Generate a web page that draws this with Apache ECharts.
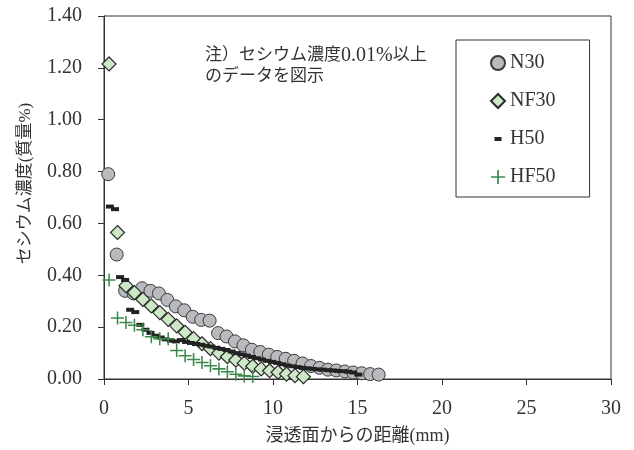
<!DOCTYPE html>
<html>
<head>
  <meta charset="UTF-8">
  <title>セシウム濃度分布</title>
  <script src="https://cdn.jsdelivr.net/npm/echarts@6/dist/echarts.min.js"></script>
  <style>
    html, body { margin: 0; padding: 0; background: #fff; }
    #chart { width: 634px; height: 450px; }
  </style>
</head>
<body>
  <div id="chart"></div>
  <script type="text/javascript">
    // distance from surface (mm) / Cs concentration (mass %)
    var n30X = [0.25, 0.75, 1.25, 1.75, 2.25, 2.75, 3.25, 3.75, 4.25, 4.75, 5.25, 5.75, 6.25, 6.75, 7.25, 7.75,
      8.25, 8.75, 9.25, 9.75, 10.25, 10.75, 11.25, 11.75, 12.25, 12.75, 13.25, 13.75, 14.25, 14.75, 15.25, 15.75, 16.25];
    var n30Y = [0.79, 0.48, 0.34, 0.33, 0.35, 0.34, 0.33, 0.305, 0.28, 0.265, 0.24, 0.228, 0.225, 0.177, 0.164, 0.145,
      0.13, 0.113, 0.104, 0.094, 0.085, 0.078, 0.07, 0.06, 0.05, 0.043, 0.036, 0.033, 0.029, 0.025, 0.022, 0.019, 0.017];

    var nf30X = [0.3, 0.8, 1.3, 1.8, 2.3, 2.8, 3.3, 3.8, 4.3, 4.8, 5.3, 5.8, 6.3, 6.8, 7.3, 7.8,
      8.3, 8.8, 9.3, 9.8, 10.3, 10.8, 11.3, 11.8];
    var nf30Y = [1.215, 0.565, 0.36, 0.333, 0.307, 0.282, 0.256, 0.23, 0.205, 0.18, 0.156, 0.136, 0.117, 0.1, 0.086, 0.073,
      0.061, 0.049, 0.039, 0.032, 0.026, 0.019, 0.013, 0.009];

    var h50X = [0.35, 0.65, 0.95, 1.25, 1.55, 1.85, 2.15, 2.45, 2.75, 3.05, 3.35, 3.65, 3.95, 4.25, 4.55, 4.85,
      5.15, 5.45, 5.75, 6.05, 6.35, 6.65, 6.95, 7.25, 7.55, 7.85, 8.15, 8.45, 8.75, 9.05, 9.35, 9.65,
      9.95, 10.25, 10.55, 10.85, 11.15, 11.45, 11.75, 12.05, 12.35, 12.65, 12.95, 13.25, 13.55, 13.85, 14.15, 14.45,
      14.75, 15.05];
    var h50Y = [0.665, 0.655, 0.393, 0.382, 0.267, 0.258, 0.209, 0.19, 0.178, 0.167, 0.16, 0.153, 0.148, 0.145, 0.15, 0.143,
      0.139, 0.135, 0.132, 0.128, 0.125, 0.12, 0.116, 0.112, 0.106, 0.1, 0.095, 0.09, 0.085, 0.08, 0.075, 0.07,
      0.066, 0.062, 0.057, 0.052, 0.049, 0.046, 0.043, 0.041, 0.039, 0.037, 0.036, 0.034, 0.033, 0.031, 0.03, 0.028,
      0.025, 0.017];

    var hf50X = [0.3, 0.8, 1.3, 1.8, 2.3, 2.8, 3.3, 3.8, 4.3, 4.8, 5.3, 5.8, 6.3, 6.8, 7.3, 7.8, 8.3, 8.8];
    var hf50Y = [0.382, 0.235, 0.218, 0.207, 0.19, 0.163, 0.155, 0.155, 0.11, 0.09, 0.075, 0.064, 0.051, 0.039, 0.028, 0.018,
      0.012, 0.01];

    var xTicks = [0, 5, 10, 15, 20, 25, 30];

    function pairs(xs, ys) {
      var out = [];
      for (var i = 0; i < xs.length; i++) out.push([xs[i], ys[i]]);
      return out;
    }

    var FONT = "'Liberation Serif', 'Noto Sans CJK JP', serif";
    var INK = '#333';
    var CROSS = 'path://M0,44H100V56H0Z M44,0H56V100H44Z';
    var DASH_ICON = 'path://M0,0L0,0M14,14L14,14M3.5,5H10.5V9H3.5Z';

    var chart = echarts.init(document.getElementById('chart'));

    var option = {
      backgroundColor: '#fff',
      animation: false,
      grid: {
        left: 104, right: 23, top: 16, bottom: 71,
        show: true, borderColor: INK, borderWidth: 1,
        outerBoundsMode: 'none'
      },
      xAxis: {
        type: 'value',
        min: xTicks[0], max: xTicks[xTicks.length - 1], interval: 5,
        name: '浸透面からの距離(mm)',
        nameLocation: 'middle', nameGap: 48,
        nameTextStyle: { fontFamily: FONT, fontSize: 18, color: INK },
        axisLine: { lineStyle: { color: INK, width: 1 } },
        axisTick: { show: true, inside: false, length: 6, lineStyle: { color: INK } },
        axisLabel: { fontFamily: FONT, fontSize: 20, color: INK, margin: 20 },
        splitLine: { show: false }
      },
      yAxis: {
        type: 'value',
        min: 0, max: 1.4, interval: 0.2,
        name: 'セシウム濃度(質量%)',
        nameLocation: 'middle', nameGap: 70,
        nameTextStyle: { fontFamily: FONT, fontSize: 17, color: INK, padding: [0, 0, 0, 28] },
        axisLine: { lineStyle: { color: INK, width: 1 } },
        axisTick: { show: true, inside: false, length: 6, lineStyle: { color: INK } },
        axisLabel: {
          fontFamily: FONT, fontSize: 20, color: INK, margin: 22,
          formatter: function (v) { return v.toFixed(2); }
        },
        splitLine: { show: false }
      },
      legend: {
        orient: 'vertical',
        left: 456, top: 40,
        padding: [13, 34, 10, 34],
        itemGap: 18, itemWidth: 14, itemHeight: 14,
        borderColor: INK, borderWidth: 1, backgroundColor: '#fff',
        textStyle: { fontFamily: FONT, fontSize: 20, color: INK, lineHeight: 20 },
        data: [
          { name: 'N30', icon: 'circle' },
          { name: 'NF30', icon: 'diamond' },
          { name: 'H50', icon: DASH_ICON },
          { name: 'HF50', icon: CROSS }
        ]
      },
      graphic: [{
        type: 'text',
        left: 205, top: 46,
        style: {
          text: '{a|注）セシウム濃度}{b|0.01%}{a|以上}\n{a|のデータを図示}',
          fill: INK,
          rich: {
            a: { fontFamily: FONT, fontSize: 17, lineHeight: 21, fill: INK },
            b: { fontFamily: FONT, fontSize: 20, lineHeight: 21, fill: INK }
          }
        }
      }],
      series: [
        {
          name: 'N30', type: 'scatter', symbol: 'circle', symbolSize: 13,
          itemStyle: { color: '#b9babd', borderColor: '#3a3a3a', borderWidth: 1, opacity: 1 },
          data: pairs(n30X, n30Y)
        },
        {
          name: 'NF30', type: 'scatter', symbol: 'diamond', symbolSize: 14,
          itemStyle: { color: '#cce8c6', borderColor: '#2a2a2a', borderWidth: 1.2, opacity: 1 },
          data: pairs(nf30X, nf30Y)
        },
        {
          name: 'H50', type: 'scatter', symbol: 'rect', symbolSize: [8, 4],
          itemStyle: { color: '#222', opacity: 1 },
          data: pairs(h50X, h50Y)
        },
        {
          name: 'HF50', type: 'scatter', symbol: CROSS, symbolSize: 13,
          itemStyle: { color: '#3b8a4c', opacity: 1 },
          data: pairs(hf50X, hf50Y)
        }
      ]
    };

    chart.setOption(option);
  </script>
</body>
</html>
